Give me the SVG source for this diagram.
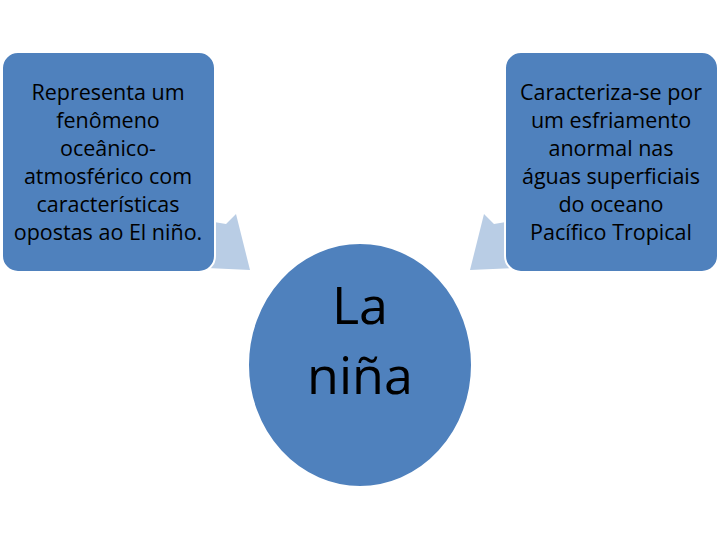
<svg xmlns="http://www.w3.org/2000/svg" width="720" height="540" viewBox="0 0 720 540">
<style>
.n{fill:#4F81BD;stroke:#fff;stroke-width:2}
.t{font-family:"Open Sans","Liberation Sans",sans-serif;font-size:21.5px;fill:#000;text-anchor:middle}
.b{font-family:"Open Sans","Liberation Sans",sans-serif;font-size:52px;fill:#000;text-anchor:middle}
.a{fill:#B9CDE5}
</style>
<rect width="720" height="540" fill="#fff"/>
<g id="connectors">
<polygon class="a" points="214,222 226,224 236,214 250,270 207,268 215,256 214,246"/>
<polygon class="a" points="506,222 494,224 484,214 470,270 513,268 505,256 506,246"/>
</g>
<g id="left">
<rect class="n" x="2" y="52" width="213" height="220" rx="16"/>
<text class="t" x="108" y="100">Representa um</text>
<text class="t" x="108" y="128">fenômeno</text>
<text class="t" x="108" y="156">oceânico-</text>
<text class="t" x="108" y="184">atmosférico com</text>
<text class="t" x="108" y="212">características</text>
<text class="t" x="108" y="240">opostas ao El niño.</text>
</g>
<g id="right">
<rect class="n" x="505" y="52" width="213" height="220" rx="16"/>
<text class="t" x="611" y="100">Caracteriza-se por</text>
<text class="t" x="611" y="128">um esfriamento</text>
<text class="t" x="611" y="156">anormal nas</text>
<text class="t" x="611" y="184">águas superficiais</text>
<text class="t" x="611" y="212">do oceano</text>
<text class="t" x="611" y="240">Pacífico Tropical</text>
</g>
<g id="center">
<ellipse class="n" cx="360" cy="365" rx="112" ry="122"/>
<text class="b" x="360" y="324">La</text>
<text class="b" x="360" y="394">niña</text>
</g>
</svg>
